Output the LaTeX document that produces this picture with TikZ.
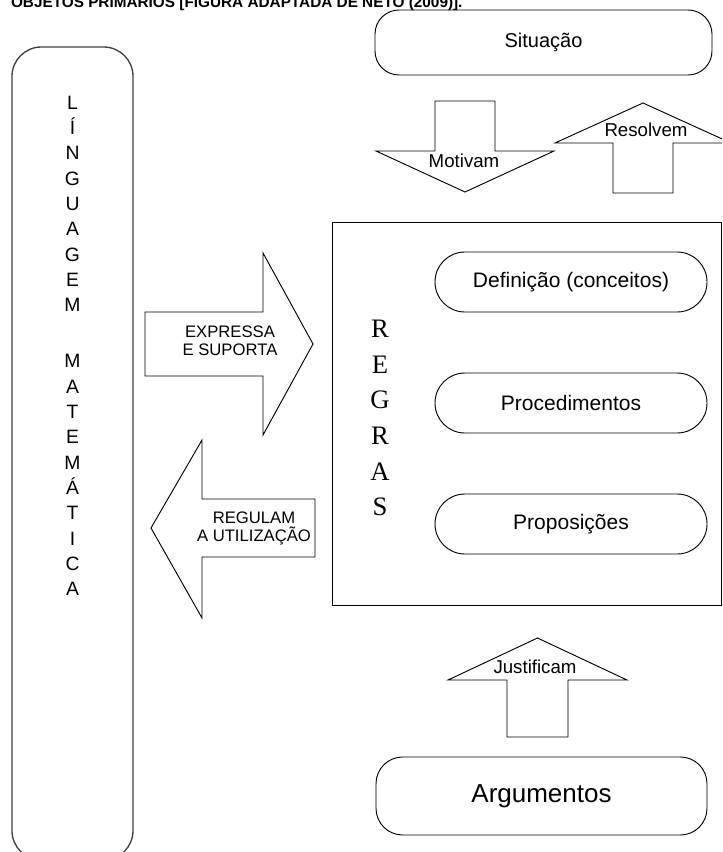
\documentclass[tikz,border=0pt]{standalone}
\usepackage{fontspec}
\setmainfont{Liberation Sans}
\newfontfamily\regrasfont{Liberation Serif}
\usetikzlibrary{positioning}

\begin{document}
\begin{tikzpicture}[
        x=0.75pt, y=-0.75pt,
        line width=0.7pt,
        terminal/.style={rectangle, rounded corners=18pt, draw, align=center, inner sep=0pt, outer sep=0pt},
        pill/.style={rectangle, rounded corners=22.4pt, draw, align=center, minimum width=204pt, minimum height=45pt, inner sep=0pt, outer sep=0pt, font=\fontsize{15.75}{18}\selectfont},
        rulesbox/.style={rectangle, draw, minimum width=291.75pt, minimum height=287.25pt, inner sep=0pt, outer sep=0pt},
        blockarrow/.style={draw, line join=miter},
        arrowtext/.style={align=center, inner sep=0pt, font=\fontsize{14}{16}\selectfont},
        sidetext/.style={align=center, inner sep=0pt, font=\fontsize{12.5}{13.5}\selectfont}
    ]
    \useasboundingbox (0,0) rectangle (722,852);
    \clip (0,0) rectangle (722,852);

    % Caption (cut at the top of the figure)
    \node[anchor=base east, inner sep=0pt, font=\bfseries\fontsize{11.5}{13}\selectfont] (titulo) at (463,8) {OBJETOS PRIMÁRIOS [FIGURA ADAPTADA DE NETO (2009)].};

    % Left column: mathematical language
    \node[terminal, rounded corners=22pt, draw=black!75, line width=1pt, minimum width=90.75pt, minimum height=609.75pt] (lang) at (72.5,453.5) {};
    \node[align=center, inner sep=0pt, font=\fontsize{14.5}{19}\selectfont] (langtxt) at (72.5,346) {L\\Í\\N\\G\\U\\A\\G\\E\\M\\[23pt]M\\A\\T\\E\\M\\Á\\T\\I\\C\\A};

    % Top: situation
    \node[terminal, minimum width=252.75pt, minimum height=48.75pt, font=\fontsize{15}{18}\selectfont] (sit) at (543.5,42.5) {Situação};

    % Rules box and its three items
    \node[rulesbox] (regras) at (526.5,413.5) {};
    \node[align=center, inner sep=0pt, font=\regrasfont\fontsize{20}{26.7}\selectfont] (regrastxt) at (380,418) {R\\E\\G\\R\\A\\S};
    \node[pill] (def) at (571,282) {Definição (conceitos)};
    \node[pill, below=45.75pt of def] (proc) {Procedimentos};
    \node[pill, below=45.75pt of proc] (prop) {Proposições};

    % Bottom: arguments
    \node[terminal, rounded corners=20pt, minimum width=248.25pt, minimum height=58.5pt, font=\fontsize{19.5}{22}\selectfont] (arg) at (541.5,796) {Argumentos};

    % Block arrows between situation and rules
    \draw[blockarrow] (435,101) -- (495,101) -- (495,151) -- (554,151) -- (465,192) -- (376,151) -- (435,151) -- cycle;
    \node[arrowtext] (motivam) at (464,161) {Motivam};
    \draw[blockarrow] (613,193) -- (613,143) -- (555,143) -- (643,103) -- (731,143) -- (673,143) -- (673,193) -- cycle;
    \node[arrowtext] (resolvem) at (646,130) {Resolvem};

    % Block arrows between language and rules
    \draw[blockarrow] (145,312) -- (263,312) -- (263,253) -- (313,344) -- (263,435) -- (263,376) -- (145,376) -- cycle;
    \node[sidetext] (expressa) at (230,341) {EXPRESSA\\E SUPORTA};
    \draw[blockarrow] (315,499) -- (202,499) -- (202,440) -- (151,528) -- (202,618) -- (202,557) -- (315,557) -- cycle;
    \node[sidetext] (regulam) at (254,528) {REGULAM\\A UTILIZAÇÃO};

    % Block arrow from arguments to rules
    \draw[blockarrow] (507,737) -- (507,680) -- (448,680) -- (537.5,638) -- (627,680) -- (568,680) -- (568,737) -- cycle;
    \node[arrowtext] (justificam) at (535,667) {Justificam};

\end{tikzpicture}
\end{document}
